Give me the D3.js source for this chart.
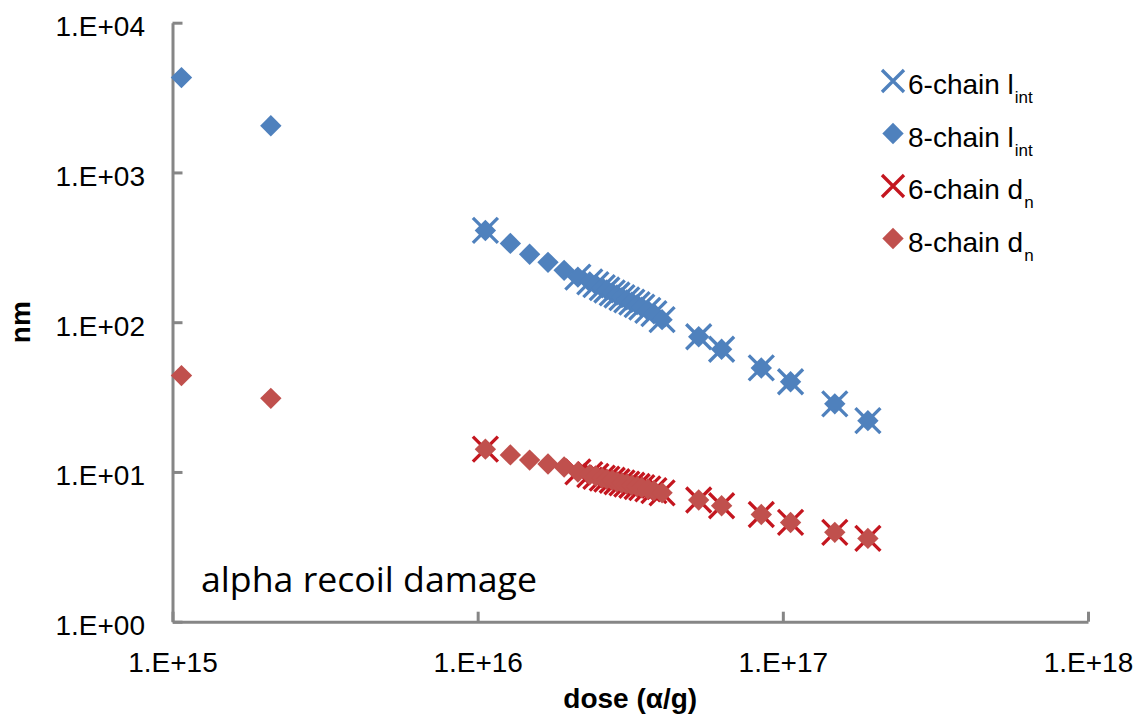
<!DOCTYPE html>
<html>
<head>
<meta charset="utf-8">
<script src="https://cdn.jsdelivr.net/npm/d3@7"></script>
<style>
  body { margin: 0; background: #fff; }
  text { font-family: "Liberation Sans", Arial, sans-serif; fill: #000; }
</style>
</head>
<body>
<div id="chart"></div>
<script>
// dose values (alpha/g) for each series
var dose6 = [1.06e16, 2.13e16, 2.33e16, 2.44e16, 2.56e16, 2.65e16, 2.76e16, 2.86e16, 2.97e16, 3.08e16, 3.20e16, 3.33e16, 3.45e16, 3.61e16, 3.78e16, 4.02e16, 5.30e16, 6.30e16, 8.50e16, 1.06e17, 1.48e17, 1.90e17]
var lint6 = [410, 200, 186, 178, 170, 164, 157, 152, 146, 141, 136, 131, 126, 120, 114, 104, 80, 66, 49.5, 40, 28.5, 22]
var dn6 = [14.2, 10.0, 9.6, 9.35, 9.1, 8.95, 8.8, 8.6, 8.45, 8.3, 8.15, 8.0, 7.85, 7.7, 7.5, 7.25, 6.5, 5.95, 5.2, 4.6, 3.95, 3.6]

var dose8 = [1.07e15, 2.10e15, 1.06e16, 1.28e16, 1.48e16, 1.70e16, 1.92e16, 2.13e16, 2.33e16, 2.44e16, 2.56e16, 2.65e16, 2.76e16, 2.86e16, 2.97e16, 3.08e16, 3.20e16, 3.33e16, 3.45e16, 3.61e16, 3.78e16, 4.02e16, 5.30e16, 6.30e16, 8.50e16, 1.06e17, 1.48e17, 1.90e17]
var lint8 = [4300, 2050, 410, 336, 284, 251, 222, 200, 186, 178, 170, 164, 157, 152, 146, 141, 136, 131, 126, 120, 114, 104, 80, 66, 49.5, 40, 28.5, 22]
var dn8 = [44, 31, 14.2, 13.0, 12.0, 11.3, 10.8, 10.0, 9.6, 9.35, 9.1, 8.95, 8.8, 8.6, 8.45, 8.3, 8.15, 8.0, 7.85, 7.7, 7.5, 7.25, 6.5, 5.95, 5.2, 4.6, 3.95, 3.6]

var xTicks = [1e15, 1e16, 1e17, 1e18]
var yTicks = [1, 10, 100, 1000, 10000]
var seriesNames = ["6-chain l", "8-chain l", "6-chain d", "8-chain d"]
var seriesSubs = ["int", "int", "n", "n"]

var W = 1142, H = 719
var margin = {top: 22.7, right: 54, bottom: 97.3, left: 172.5}
var width = W - margin.left - margin.right
var height = H - margin.top - margin.bottom

var blue = "#4f81bd", redX = "#c4161f", redD = "#c0504d", axisCol = "#868686"

var svg = d3.select("#chart").append("svg")
    .attr("width", W)
    .attr("height", H)
var g = svg.append("g")
    .attr("transform", "translate(" + margin.left + "," + margin.top + ")")

var x = d3.scaleLog().domain([1e15, 1e18]).range([0, width])
var y = d3.scaleLog().domain([1, 1e4]).range([height, 0])

var fmt = function(d) {
    var e = Math.round(Math.log10(d))
    return "1.E+" + (e < 10 ? "0" + e : e)
}

// axes
var yAxis = g.append("g")
    .call(d3.axisLeft(y).tickValues(yTicks).tickFormat(fmt).tickSize(-10).tickSizeOuter(0).tickPadding(27.5))
var xAxis = g.append("g")
    .attr("transform", "translate(0," + height + ")")
    .call(d3.axisBottom(x).tickValues(xTicks).tickFormat(fmt).tickSize(-10).tickSizeOuter(0).tickPadding(30))
;[xAxis, yAxis].forEach(function(a) {
    a.select(".domain").attr("stroke", axisCol).attr("stroke-width", 3)
    a.selectAll(".tick line").attr("stroke", axisCol).attr("stroke-width", 3)
    a.selectAll(".tick text").style("font-size", "28px").attr("fill", "#000")
})
yAxis.selectAll(".tick text").attr("dy", "13px")

// markers
var crossPath = function(s) { return "M" + (-s) + "," + (-s) + "L" + s + "," + s + "M" + (-s) + "," + s + "L" + s + "," + (-s) }
var diamondPath = function(r) { return "M0," + (-r) + "L" + r + ",0L0," + r + "L" + (-r) + ",0Z" }

var drawCross = function(xs, ys, color) {
    g.append("g").selectAll("path")
        .data(xs)
        .enter().append("path")
        .attr("transform", function(d, i) { return "translate(" + x(d) + "," + y(ys[i]) + ")" })
        .attr("d", crossPath(12.5))
        .attr("stroke", color)
        .attr("stroke-width", 3.3)
        .attr("fill", "none")
}
var drawDiamond = function(xs, ys, color) {
    g.append("g").selectAll("path")
        .data(xs)
        .enter().append("path")
        .attr("transform", function(d, i) { return "translate(" + x(d) + "," + y(ys[i]) + ")" })
        .attr("d", diamondPath(10.7))
        .attr("fill", color)
}
drawCross(dose6, lint6, blue)
drawDiamond(dose8, lint8, blue)
drawCross(dose6, dn6, redX)
drawDiamond(dose8, dn8, redD)

// axis titles
svg.append("text")
    .attr("x", margin.left + width / 2)
    .attr("y", 708)
    .attr("text-anchor", "middle")
    .style("font-size", "28px")
    .style("font-weight", "bold")
    .text("dose (\u03b1/g)")
svg.append("text")
    .attr("transform", "translate(30," + (margin.top + height / 2) + ") rotate(-90)")
    .attr("text-anchor", "middle")
    .style("font-size", "28px")
    .style("font-weight", "bold")
    .text("nm")

// annotation
svg.append("text")
    .attr("x", 201)
    .attr("y", 592)
    .style("font-family", "'Open Sans', Lato, sans-serif")
    .style("font-size", "35px")
    .attr("fill", "#222")
    .attr("textLength", 336)
    .attr("lengthAdjust", "spacingAndGlyphs")
    .text("alpha recoil damage")

// legend
var legend = svg.append("g").attr("transform", "translate(893,81)")
seriesNames.forEach(function(name, i) {
    var row = legend.append("g").attr("transform", "translate(0," + (i * 52.5) + ")")
    if (i % 2 == 0) {
        row.append("path").attr("d", crossPath(11)).attr("stroke", i < 2 ? blue : redX)
            .attr("stroke-width", 3.3).attr("fill", "none")
    } else {
        row.append("path").attr("d", diamondPath(10.7)).attr("fill", i < 2 ? blue : redD)
    }
    var t = row.append("text").attr("x", 15).attr("y", 13).style("font-size", "28px")
    t.append("tspan").text(name)
    t.append("tspan").attr("dx", 1).attr("dy", 9).style("font-size", "17px").text(seriesSubs[i])
})
</script>
</body>
</html>
